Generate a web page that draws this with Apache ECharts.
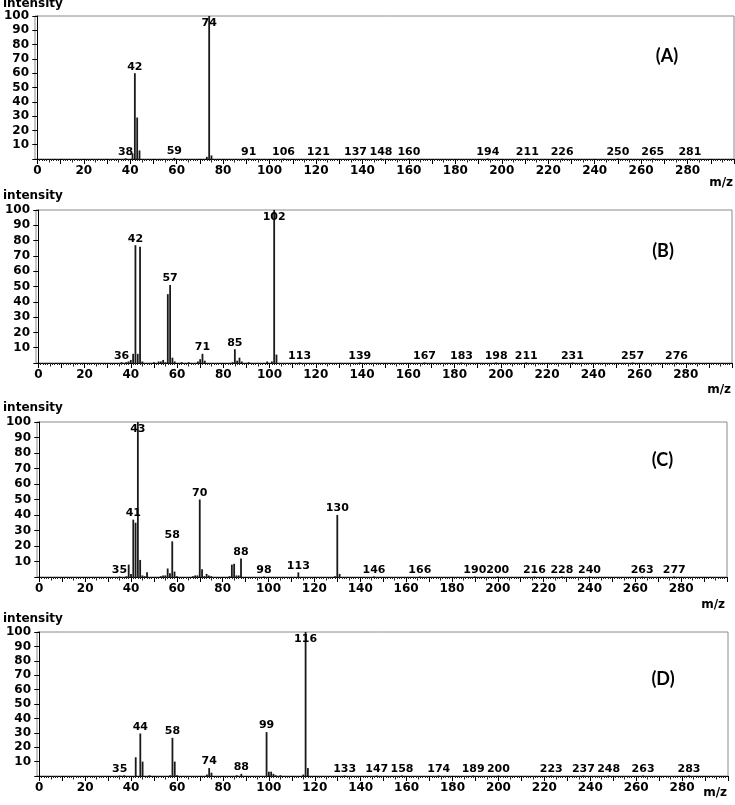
<!DOCTYPE html>
<html><head><meta charset="utf-8">
<script src="https://cdn.jsdelivr.net/npm/echarts@6/dist/echarts.min.js"></script>
<style>html,body{margin:0;padding:0;background:#fff}#c{width:735px;height:805px}</style>
</head><body><div id="c"></div>
<script>
// ---- Panel A ----
const mzA  = [38, 41, 42, 43, 44, 59, 73, 74, 75, 91, 106, 121, 137, 148, 160, 194, 211, 226, 250, 265, 281];
const intA = [0.5, 4, 60, 29, 6, 0.8, 1.5, 100, 2.5, 0.3, 0.3, 0.3, 0.3, 0.3, 0.3, 0.3, 0.3, 0.3, 0.3, 0.3, 0.3];
const lblA = [38, 42, 59, 74, 91, 106, 121, 137, 148, 160, 194, 211, 226, 250, 265, 281];
// ---- Panel B ----
const mzB  = [36, 38, 39, 40, 41, 42, 43, 44, 45, 50, 52, 53, 54, 55, 56, 57, 58, 59, 62, 65, 69, 70, 71, 72, 84, 85, 86, 87, 88, 91, 99, 101, 102, 103, 113, 139, 167, 183, 198, 211, 231, 257, 276];
const intB = [0.5, 0.5, 1, 2, 6, 77, 6, 76, 1, 0.5, 1, 1, 2, 0.5, 45, 51, 3.5, 1, 0.5, 0.5, 1, 2.5, 6, 1.5, 0.5, 9, 1.5, 3.5, 1, 0.5, 1, 1, 100, 5.5, 0.3, 0.3, 0.3, 0.3, 0.3, 0.3, 0.3, 0.3, 0.3];
const lblB = [36, 42, 57, 71, 85, 102, 113, 139, 167, 183, 198, 211, 231, 257, 276];
// ---- Panel C ----
const mzC  = [35, 38, 39, 40, 41, 42, 43, 44, 45, 46, 47, 53, 54, 55, 56, 57, 58, 59, 60, 67, 68, 69, 70, 71, 72, 73, 74, 75, 83, 84, 85, 86, 87, 88, 98, 113, 129, 130, 131, 146, 166, 190, 200, 216, 228, 240, 263, 277];
const intC = [0.3, 0.5, 8, 2, 37, 35, 100, 11, 1, 0.5, 3, 0.5, 1, 1, 5.5, 2.5, 23, 3.5, 0.5, 0.5, 1, 1, 50, 5, 0.5, 2, 1, 0.5, 0.5, 8, 8.5, 1, 1, 12, 0.3, 3, 0.5, 40, 2, 0.3, 0.3, 0.3, 0.3, 0.3, 0.3, 0.3, 0.3, 0.3];
const lblC = [35, 41, 43, 58, 70, 88, 98, 113, 130, 146, 166, 190, 200, 216, 228, 240, 263, 277];
// ---- Panel D ----
const mzD  = [35, 37, 42, 44, 45, 48, 57, 58, 59, 60, 73, 74, 75, 86, 88, 99, 100, 101, 102, 103, 105, 115, 116, 117, 133, 147, 158, 174, 189, 200, 223, 237, 248, 263, 283];
const intD = [0.3, 0.5, 13, 29.5, 10, 0.5, 0.5, 26.5, 10, 0.5, 1, 5.5, 2.3, 0.5, 1.5, 30.5, 3, 3, 1.5, 0.5, 0.5, 1, 100, 5.5, 0.3, 0.3, 0.3, 0.3, 0.3, 0.3, 0.3, 0.3, 0.3, 0.3, 0.3];
const lblD = [35, 44, 58, 74, 88, 99, 116, 133, 147, 158, 174, 189, 200, 223, 237, 248, 263, 283];

const xTickLabels = [0, 20, 40, 60, 80, 100, 120, 140, 160, 180, 200, 220, 240, 260, 280];
const yTickLabels = [10, 20, 30, 40, 50, 60, 70, 80, 90, 100];
const panelNames = ['(A)', '(B)', '(C)', '(D)'];
const yTitle = 'intensity';
const xTitle = 'm/z';

const panels = [
  {mz: mzA, it: intA, lbl: lblA},
  {mz: mzB, it: intB, lbl: lblB},
  {mz: mzC, it: intC, lbl: lblC},
  {mz: mzD, it: intD, lbl: lblD}
];

const gridPos = [
  {left: 35, top: 16, width: 699, height: 143},
  {left: 36, top: 210, width: 696, height: 153},
  {left: 37, top: 422, width: 690, height: 155},
  {left: 37, top: 632, width: 691, height: 144}
];
const yTitlePos = [5, 197, 409, 620];
const xTitlePos = [[733, 183], [731, 390], [725, 605], [727, 793]];
const panelPos = [[667, 56], [663, 251], [662.5, 460.5], [663, 679.5]];

const FONT = 'DejaVu Sans';
const ticks1 = [], ticks5 = [], ticks10 = [];
for (let v = 0; v <= 300; v++) {
  if (v % 10 === 0) ticks10.push(v);
  else if (v % 5 === 0) ticks5.push(v);
  else ticks1.push(v);
}

const grid = [], xAxis = [], yAxis = [], series = [], graphic = [];
panels.forEach((p, g) => {
  grid.push(Object.assign({show: true, borderColor: '#8a8a8a', borderWidth: 1, backgroundColor: 'transparent'}, gridPos[g]));
  const base = {type: 'value', gridIndex: g, min: -1, max: 300, position: 'bottom', splitLine: {show: false}};
  xAxis.push(Object.assign({}, base, {
    axisLine: {show: true, lineStyle: {color: '#000', width: 1}},
    axisTick: {show: true, length: 5, customValues: ticks10, lineStyle: {color: '#000'}},
    axisLabel: {show: true, customValues: xTickLabels, margin: 6, fontFamily: FONT, fontWeight: 'bold', fontSize: 12, color: '#000'}
  }));
  xAxis.push(Object.assign({}, base, {
    axisLine: {show: false},
    axisTick: {show: true, length: 2, customValues: ticks1, lineStyle: {color: '#222'}},
    axisLabel: {show: false}
  }));
  xAxis.push(Object.assign({}, base, {
    axisLine: {show: false},
    axisTick: {show: true, length: 3.5, customValues: ticks5, lineStyle: {color: '#222'}},
    axisLabel: {show: false}
  }));
  yAxis.push({
    type: 'value', gridIndex: g, min: 0, max: 100, interval: 10,
    splitLine: {show: false},
    axisLine: {show: true, lineStyle: {color: '#000', width: 1}},
    axisTick: {show: true, length: 5, lineStyle: {color: '#000'}},
    axisLabel: {show: true, margin: 6, fontFamily: FONT, fontWeight: 'bold', fontSize: 12, color: '#000',
      formatter: v => (yTickLabels.indexOf(v) >= 0 ? String(v) : '')}
  });
  series.push({
    type: 'bar', xAxisIndex: g * 3, yAxisIndex: g, barWidth: 1.8, silent: true,
    itemStyle: {color: '#1a1a1a'},
    data: p.mz.map((m, i) => {
      const show = p.lbl.indexOf(m) >= 0;
      const high = p.it[i] >= 95;
      return {
        value: [m, p.it[i]],
        label: {
          show: show, position: high ? 'insideTop' : 'top', distance: high ? 2 : 1,
          formatter: String(m), fontFamily: FONT, fontWeight: 'bold', fontSize: 11, color: '#000'
        }
      };
    })
  });
  graphic.push({type: 'text', left: 3, top: yTitlePos[g] - 7, silent: true,
    style: {text: yTitle, font: 'bold 12px "' + FONT + '"', fill: '#000'}});
  graphic.push({type: 'text', x: xTitlePos[g][0], y: xTitlePos[g][1], silent: true,
    style: {text: xTitle, font: 'bold 12px "' + FONT + '"', fill: '#000', align: 'right', verticalAlign: 'middle'}});
  graphic.push({type: 'text', x: panelPos[g][0], y: panelPos[g][1], silent: true,
    style: {text: panelNames[g], font: 'bold 18px Lato', fill: '#000', align: 'center', verticalAlign: 'middle'}});
});

const chart = echarts.init(document.getElementById('c'), null, {renderer: 'canvas'});
chart.setOption({animation: false, backgroundColor: '#fff', grid, xAxis, yAxis, series, graphic});
</script>
</body></html>
